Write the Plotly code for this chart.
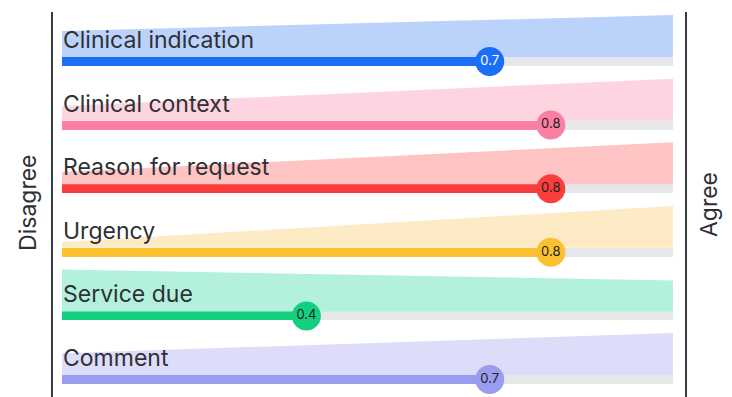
import plotly.graph_objects as go

# Survey items and their mean agreement score (0 = disagree, 1 = agree)
items = ["Clinical indication", "Clinical context", "Reason for request",
         "Urgency", "Service due", "Comment"]
scores = [0.7, 0.8, 0.8, 0.8, 0.4, 0.7]
# Relative share of responses at the "Disagree" and "Agree" ends (wedge heights)
share_disagree = [0.62, 0.35, 0.29, 0.14, 1.0, 0.52]
share_agree = [1.0, 1.0, 1.0, 1.0, 0.74, 1.0]

bar_colors = ["#1b6ff7", "#fa7fa3", "#fb3d3d", "#fbc12e", "#13cf80", "#9a9cf0"]
wedge_colors = ["#bbd2fb", "#fdd4df", "#fec4c4", "#fdebc6", "#b3f1dc", "#dddcf9"]
value_text_colors = ["#ffffff", "#222222", "#222222", "#222222", "#222222", "#222222"]

BAR_W = 0.14        # bar thickness in row units
WEDGE_MAX = 0.66    # full wedge height in row units
FONT = "Inter, sans-serif"
TEXT_COLOR = "#2e3034"

fig = go.Figure()

rows = list(range(len(items)))

# Wedges showing the spread of answers from disagree to agree
for i in rows:
    base = i - BAR_W / 2
    fig.add_trace(go.Scatter(
        x=[0, 1, 1, 0, 0],
        y=[base, base, base - WEDGE_MAX * share_agree[i],
           base - WEDGE_MAX * share_disagree[i], base],
        fill="toself", fillcolor=wedge_colors[i], mode="none",
        hoverinfo="skip", showlegend=False,
    ))

# Grey full-length track
fig.add_trace(go.Bar(
    x=[1] * len(items), y=rows, orientation="h", width=BAR_W,
    marker=dict(color="#e6e7e9", line=dict(width=0)),
    hoverinfo="skip", showlegend=False,
))
# Coloured score bars
fig.add_trace(go.Bar(
    x=scores, y=rows, orientation="h", width=BAR_W,
    marker=dict(color=bar_colors, line=dict(width=0)),
    hoverinfo="skip", showlegend=False,
))
# Score bubbles
fig.add_trace(go.Scatter(
    x=scores, y=rows, mode="markers+text",
    marker=dict(size=29, color=bar_colors, line=dict(width=0)),
    text=[f"{s:.1f}" for s in scores], textposition="middle center",
    textfont=dict(family=FONT, size=13, color=value_text_colors),
    hoverinfo="skip", showlegend=False,
))

# Item labels sitting on top of each bar
for i, name in enumerate(items):
    fig.add_annotation(
        x=0, y=i - BAR_W / 2, xref="x", yref="y",
        text=name, showarrow=False, xanchor="left", yanchor="bottom",
        xshift=-1, yshift=1,
        font=dict(family=FONT, size=23, color=TEXT_COLOR),
    )

# End labels
fig.add_annotation(x=-0.0556, y=0.489, xref="paper", yref="paper", text="Disagree",
                   textangle=-90, showarrow=False, xanchor="center", yanchor="middle",
                   font=dict(family=FONT, size=23, color=TEXT_COLOR))
fig.add_annotation(x=1.0589, y=0.486, xref="paper", yref="paper", text="Agree",
                   textangle=-90, showarrow=False, xanchor="center", yanchor="middle",
                   font=dict(family=FONT, size=23, color=TEXT_COLOR))

# Framing rules at both ends of the scale
for xp in (-0.0164, 1.0213):
    fig.add_shape(type="line", xref="paper", yref="paper",
                  x0=xp, x1=xp, y0=0, y1=0.97,
                  line=dict(color="#3a3b3e", width=2))

fig.update_layout(
    width=732, height=397,
    margin=dict(l=62, r=59, t=0, b=0),
    paper_bgcolor="white", plot_bgcolor="white",
    barmode="overlay", bargap=0,
    xaxis=dict(range=[0, 1], visible=False, fixedrange=True),
    yaxis=dict(range=[5.275, -0.967], visible=False, fixedrange=True),
)

fig.write_html("out.html")
